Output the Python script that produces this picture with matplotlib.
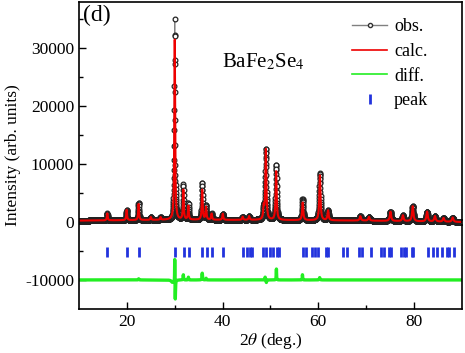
import numpy as np
import matplotlib
matplotlib.use('Agg')
from matplotlib import pyplot as plt
from matplotlib.lines import Line2D

plt.rcParams['font.family'] = ['Liberation Serif', 'DejaVu Serif']
plt.rcParams['mathtext.fontset'] = 'stix'
plt.rcParams['axes.unicode_minus'] = False

# reflections seen in the pattern: position (deg), calc. height, fwhm (deg)
peak_pos = [15.9, 19.95, 22.45, 25.0, 27.05, 30.0, 31.8, 32.85, 35.75, 36.55,
            37.7, 40.05, 44.2, 45.55, 48.6, 49.05, 51.2, 56.75, 60.35, 62.05,
            68.8, 70.6, 75.1, 77.7, 79.75, 82.75, 84.4, 86.2, 88.1]
peak_h = [1200, 1800, 2800, 500, 450, 31100, 5100, 2400, 5200, 2200,
          1050, 1050, 550, 650, 2000, 12200, 8400, 3050, 7800, 1700,
          750, 650, 1600, 1000, 2600, 1700, 950, 650, 750]
peak_w = [0.2, 0.2, 0.2, 0.2, 0.2, 0.2, 0.2, 0.2, 0.22, 0.22,
          0.22, 0.22, 0.25, 0.25, 0.25, 0.25, 0.25, 0.27, 0.28, 0.28,
          0.3, 0.3, 0.32, 0.32, 0.33, 0.34, 0.35, 0.35, 0.36]

# background read at a few angles
bg_x = [10, 30, 50, 70, 90]
bg_y = [250, 400, 350, 250, 0]

# misfit features (obs - calc): position, amplitude, width
res_pos = [22.45, 29.5, 30.0, 30.12, 31.8, 32.85, 35.75, 36.55, 48.9, 49.15, 51.25, 56.7, 60.3]
res_amp = [200, -400, 4100, -3400, 900, 500, 1200, 300, 500, -500, 2000, 900, 400]
res_w = [0.15, 0.5, 0.05, 0.1, 0.1, 0.1, 0.12, 0.1, 0.15, 0.1, 0.08, 0.08, 0.15]

# Bragg positions (tick marks)
bragg = [15.9, 19.95, 22.45, 30.05, 31.85, 32.95, 35.7, 36.7, 37.7, 40.1,
         44.2, 45.1, 45.7, 46.25, 48.5, 49.05, 49.9, 50.45, 51.3, 51.7,
         56.8, 57.4, 58.6, 59.35, 60.05, 61.7, 62.1, 65.2, 66.1, 68.6, 69.1,
         70.95, 73.1, 73.8, 74.7, 75.2, 77.3, 77.95, 78.45, 79.5, 79.9,
         82.9, 83.9, 84.9, 85.9, 86.9, 87.4, 88.3]
offset_diff = -10000
offset_tick = -5100

x = np.arange(10, 90.001, 0.02)


def lor(x, p, h, w):
    return h / (1 + (2 * (x - p) / w) ** 2)


calc = np.interp(x, bg_x, bg_y)
for p, h, w in zip(peak_pos, peak_h, peak_w):
    calc = calc + lor(x, p, h, w)
resid = np.zeros_like(x)
for p, a, w in zip(res_pos, res_amp, res_w):
    resid = resid + lor(x, p, a, w)
obs = calc + resid
diff = obs - calc + offset_diff

fig = plt.figure(figsize=(4.65, 3.53), dpi=100)
ax = fig.add_axes([0.170, 0.125, 0.823, 0.869])

ax.plot(x, obs, color='gray', lw=0.8, marker='o', ms=3.4, mfc='white', mec='#222222', mew=0.9)
ax.plot(x, calc, color='#ee0000', lw=1.5)
ax.plot(x, diff, color='#22ee22', lw=2.4)
ax.plot(bragg, [offset_tick] * len(bragg), ls='none', marker='|', ms=7.5, mew=2, color='#2233dd')

ax.set_xlim(10, 90)
ax.set_ylim(-15000, 38000)
ax.set_xticks([20, 40, 60, 80])
ax.set_xticks([30, 50, 70], minor=True)
ax.set_yticks([-10000, 0, 10000, 20000, 30000])
ax.set_yticks([-5000, 5000, 15000, 25000, 35000], minor=True)
ax.tick_params(which='both', direction='in', labelsize=12.5, top=False, right=False)
ax.tick_params(which='major', length=5, width=1)
ax.tick_params(which='minor', length=3, width=1)
for s in ax.spines.values():
    s.set_linewidth(1.2)

ax.set_xlabel(r'2$\theta$ (deg.)', fontsize=12.5, labelpad=1)
ax.set_ylabel('Intensity (arb. units)', fontsize=12.5, labelpad=3)

ax.text(0.01, 0.99, '(d)', transform=ax.transAxes, fontsize=17, va='top', ha='left')
ax.text(39.9, 27600, r'BaFe$_2$Se$_4$', fontsize=15, va='center', ha='left')

handles = [Line2D([], [], color='gray', lw=1, marker='o', ms=3, mfc='white', mec='#333333'),
           Line2D([], [], color='#ee0000', lw=1.2),
           Line2D([], [], color='#22ee22', lw=1.2),
           Line2D([], [], ls='none', marker='|', ms=7, mew=2, color='#2233dd')]
ax.legend(handles, ['obs.', 'calc.', 'diff.', 'peak'], loc='upper right', bbox_to_anchor=(0.955, 1.0),
          frameon=False, fontsize=13, handlelength=1.9, handletextpad=0.4, labelspacing=0.42)

fig.savefig('out.png', dpi=100)
